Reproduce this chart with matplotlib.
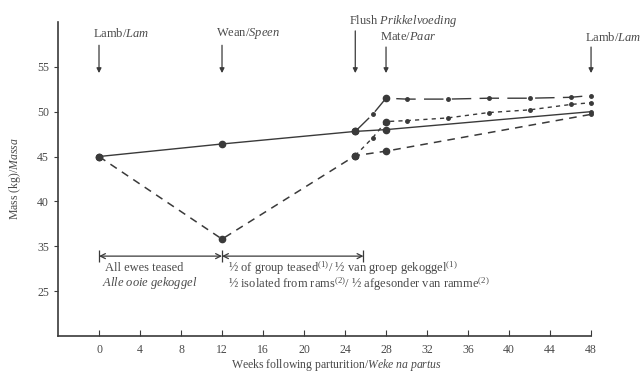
import matplotlib.pyplot as plt

plt.rcParams['font.family'] = ['Liberation Serif', 'DejaVu Serif']
plt.rcParams['mathtext.fontset'] = 'custom'
plt.rcParams['mathtext.rm'] = 'Liberation Serif'
plt.rcParams['mathtext.it'] = 'Liberation Serif:italic'

# Ewe body mass (kg) against weeks after parturition
weeks_a = [0, 12, 25, 28, 48]
mass_a = [45.0, 46.4, 47.8, 48.0, 50.0]           # solid

weeks_b = [0, 12, 25, 28, 48]
mass_b = [45.0, 35.8, 45.1, 45.6, 49.7]           # dashed

weeks_c = [25, 26.7, 28, 30, 34, 38, 42, 46, 48]
mass_c = [47.8, 49.7, 51.5, 51.4, 51.4, 51.5, 51.5, 51.6, 51.8]   # long dash

weeks_d = [25, 26.7, 28, 30, 34, 38, 42, 46, 48]
mass_d = [45.1, 47.1, 48.9, 49.0, 49.3, 49.9, 50.2, 50.8, 51.0]   # short dash

events = [(0, 'Lamb/$\\it{Lam}$', 57.4, 58.7),
          (12, 'Wean/$\\it{Speen}$', 57.4, 58.7),
          (25, 'Flush $\\it{Prikkelvoeding}$', 59.0, 60.1),
          (28, 'Mate/$\\it{Paar}$', 57.2, 58.3),
          (48, 'Lamb/$\\it{Lam}$', 57.2, 58.3)]

ytick_pos = [30, 35, 40, 45, 50, 55]
ytick_lab = ['25', '35', '40', '45', '50', '55']
xticks = list(range(0, 49, 4))

ink = '#3a3a3a'
txt = '#4a4a4a'

fig = plt.figure(figsize=(6.43, 3.77), dpi=100)
ax = fig.add_axes([0.0902, 0.1088, 0.829, 0.833])

ax.plot(weeks_a, mass_a, '-', color=ink, lw=1.0, clip_on=False)
ax.plot(weeks_b, mass_b, color=ink, lw=1.1, dashes=(5, 4), clip_on=False)
ax.plot(weeks_c, mass_c, color=ink, lw=1.0, dashes=(14, 6), clip_on=False)
ax.plot(weeks_d, mass_d, color=ink, lw=1.0, dashes=(3, 3), clip_on=False)

# large points at the main weighings, small dots elsewhere
big = [0, 12, 25, 28]
for w, m in [(weeks_a, mass_a), (weeks_b, mass_b), (weeks_c, mass_c), (weeks_d, mass_d)]:
    for x, y in zip(w, m):
        if x in big:
            ax.plot(x, y, 'o', color=ink, ms=4.5, clip_on=False)
        else:
            ax.plot(x, y, 'o', color=ink, ms=2.5, clip_on=False)

# event arrows along the top
for x, label, top, ty in events:
    ax.annotate('', xy=(x, 54.3), xytext=(x, top),
                arrowprops=dict(arrowstyle='-|>', color=ink, lw=0.9,
                                mutation_scale=7, shrinkA=0, shrinkB=0),
                annotation_clip=False)
    ax.text(x - 0.6, ty, label, ha='left', va='center', fontsize=9,
            color=txt, clip_on=False)

# treatment periods
ax.annotate('', xy=(0, 33.9), xytext=(12, 33.9),
            arrowprops=dict(arrowstyle='<->', color=ink, lw=0.9,
                            mutation_scale=9, shrinkA=0, shrinkB=0))
ax.annotate('', xy=(12, 33.9), xytext=(25.8, 33.9),
            arrowprops=dict(arrowstyle='<->', color=ink, lw=0.9,
                            mutation_scale=9, shrinkA=0, shrinkB=0))
ax.vlines([0, 12, 25.8], 33.2, 34.6, color=ink, lw=0.9)

ax.text(0.6, 32.6, 'All ewes teased', fontsize=9, color=txt, va='center')
ax.text(0.3, 30.9, '$\\it{Alle\\ ooie\\ gekoggel}$', fontsize=9, color=txt, va='center')
ax.text(12.6, 32.6, '½ of group teased$^{(1)}$/ ½ van groep gekoggel$^{(1)}$',
        fontsize=9, color=txt, va='center')
ax.text(12.6, 30.8, '½ isolated from rams$^{(2)}$/ ½ afgesonder van ramme$^{(2)}$',
        fontsize=9, color=txt, va='center')

ax.set_xlim(-4, 48)
ax.set_ylim(25, 60)
ax.set_xticks(xticks)
ax.set_yticks(ytick_pos)
ax.set_yticklabels(ytick_lab)
ax.tick_params(axis='x', direction='in', length=4, colors=ink, labelcolor=txt,
               labelsize=8.5, pad=6)
ax.tick_params(axis='y', direction='out', length=3, colors=ink, labelcolor=txt,
               labelsize=8.5)

for s in ['top', 'right']:
    ax.spines[s].set_visible(False)
for s in ['left', 'bottom']:
    ax.spines[s].set_color(ink)
    ax.spines[s].set_linewidth(1.2)

ax.set_xlabel('Weeks following parturition/$\\it{Weke\\ na\\ partus}$',
              fontsize=8.5, color=txt)
ax.xaxis.set_label_coords(0.523, -0.068)
ax.set_ylabel('Mass (kg)/$\\it{Massa}$', fontsize=8.5, color=txt, labelpad=10)

fig.savefig('out.png', dpi=100)
